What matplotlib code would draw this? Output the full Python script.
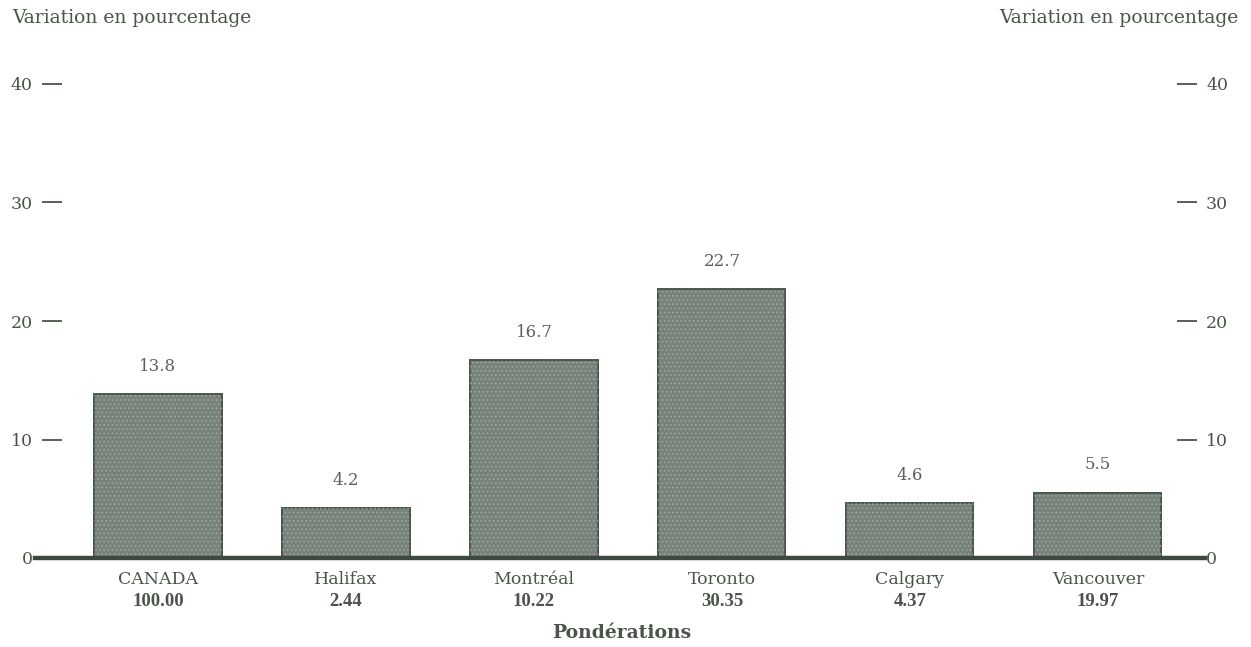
import numpy as np
import matplotlib
matplotlib.use('Agg')
from matplotlib import pyplot as plt

cities = ['CANADA', 'Halifax', 'Montréal', 'Toronto', 'Calgary', 'Vancouver']
weights = ['100.00', '2.44', '10.22', '30.35', '4.37', '19.97']
changes = [13.8, 4.2, 16.7, 22.7, 4.6, 5.5]
yticks = [0, 10, 20, 30, 40]

txt = '#4a5448'
barc = '#76827a'
edge = '#4a564c'

plt.rcParams['font.family'] = ['DejaVu Serif']

fig = plt.figure(figsize=(12.51, 6.47), dpi=100)
ax = fig.add_axes([42 / 1251, 89 / 647, 1155 / 1251, 474 / 647])

x = np.arange(len(cities))
ax.bar(x, changes, width=0.676, color=barc, edgecolor=edge, linewidth=1.4, zorder=2)
plt.rcParams['hatch.linewidth'] = 0.6
ax.bar(x, changes, width=0.676, fill=False, hatch='....', edgecolor='#a0a99f',
       linewidth=0, zorder=3)

for xi, v in zip(x, changes):
    ax.annotate(f'{v}', (xi, v), xytext=(0, 14), textcoords='offset points',
                ha='center', va='bottom', fontsize=12, color='#59625a')

ax.set_xlim(-0.617, 5.527)
ax.set_ylim(0, 40)

ax.axhline(0, xmin=-0.006, xmax=1.007, color='#3d4840', linewidth=3.2,
           clip_on=False, zorder=4)

for s in ax.spines.values():
    s.set_visible(False)

ax.set_yticks(yticks)
ax.set_yticklabels([str(t) for t in yticks])
ax.tick_params(axis='y', which='both', left=True, right=True, labelleft=True,
               labelright=True, direction='in', length=14.4, width=1.3,
               color=txt, labelcolor=txt, labelsize=12.5, pad=6.5)
for t in ax.yaxis.get_major_ticks()[:1]:
    t.tick1line.set_visible(False)
    t.tick2line.set_visible(False)

ax.set_xticks(x)
ax.set_xticklabels([])
ax.tick_params(axis='x', length=0)
for xi, c, w in zip(x, cities, weights):
    ax.annotate(c, (xi, 0), xytext=(0, -9), textcoords='offset points',
                ha='center', va='top', fontsize=12.5, color=txt, annotation_clip=False)
    ax.annotate(w, (xi, 0), xytext=(0, -25), textcoords='offset points',
                ha='center', va='top', fontsize=13.5, color=txt, fontweight='bold',
                family='Liberation Serif', annotation_clip=False)

fig.text(622 / 1251, 1 - 633 / 647, 'Pondérations', ha='center', va='center',
         fontsize=13.5, color=txt, fontweight='bold')
fig.text(12 / 1251, 1 - 18 / 647, 'Variation en pourcentage', ha='left',
         va='center', fontsize=13.5, color=txt)
fig.text(1238 / 1251, 1 - 18 / 647, 'Variation en pourcentage', ha='right',
         va='center', fontsize=13.5, color=txt)

fig.savefig('out.png', dpi=100)
